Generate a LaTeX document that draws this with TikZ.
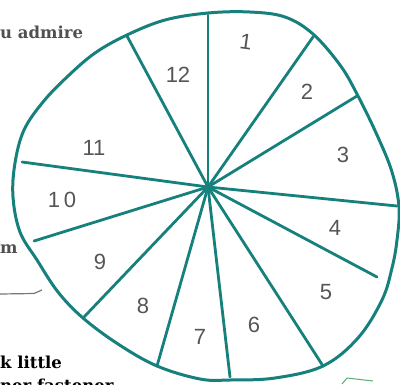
\documentclass[tikz,border=0pt]{standalone}
\usepackage{fontspec}
\setmainfont{Liberation Sans}
\newfontfamily\slabfont{DejaVu Serif}
\definecolor{tealline}{RGB}{22,128,124}
\definecolor{inkgray}{RGB}{85,85,85}
\definecolor{textgray}{RGB}{80,80,80}
\definecolor{markgreen}{RGB}{90,170,120}
\tikzset{
  rim/.style={draw=tealline, line width=3pt, line join=round},
  spoke/.style={draw=tealline, line width=2.8pt, line cap=round},
  digit/.style={text=inkgray, font=\fontsize{22}{22}\selectfont, inner sep=0pt},
  sidetext/.style={font=\slabfont\bfseries\fontsize{16.5}{16.5}\selectfont, inner sep=0pt, anchor=base west},
}
\begin{document}
\begin{tikzpicture}[x=1pt,y=-1pt]
\useasboundingbox (0,0) rectangle (400,384);
% outline
\draw[rim] plot[smooth cycle, tension=0.6] coordinates {
  (208,13) (250,12) (285,17) (313,34) (340,65) (357,94) (377,135) (392,172) (399,207)
  (397,240) (392,268) (382,300) (358,338) (323,366) (275,378) (230,380) (200,379)
  (157,366) (118,344) (83,318) (58,292) (37,260) (20,232) (13,197) (15,163) (24,130)
  (43,102) (67,77) (95,53) (127,35) (165,20)};
% center and spoke ends
\coordinate (c) at (208,187);
\coordinate (e1) at (208,15);
\coordinate (e2) at (313,37);
\coordinate (e3) at (357,96);
\coordinate (e4) at (397,206);
\coordinate (e5) at (377,277);
\coordinate (e6) at (323,366);
\coordinate (e7) at (230,377);
\coordinate (e8) at (157,366);
\coordinate (e9) at (84,317);
\coordinate (e10) at (34,241);
\coordinate (e11) at (22,162);
\coordinate (e12) at (127,36);
\foreach \i in {1,...,12} \draw[spoke] (c) -- (e\i);
% digits
\node[digit, rotate=-8] (d1) at (246,42) {1};
\node[digit] (d2) at (307,92) {2};
\node[digit] (d3) at (343,155) {3};
\node[digit] (d4) at (335,228) {4};
\node[digit] (d5) at (326,292) {5};
\node[digit] (d6) at (254,325) {6};
\node[digit] (d7) at (200,337) {7};
\node[digit] (d8) at (143,306) {8};
\node[digit] (d9) at (100,262) {9};
\node[digit] (d10) at (62,200) {1\,0};
\node[digit] (d11) at (94,148) {11};
\node[digit] (d12) at (178,75) {12};
% side texts
\node[sidetext, text=textgray] (t1) at (0,38) {u admire};
\node[sidetext, text=textgray] (t2) at (0,253) {m};
\node[sidetext, text=black] (t3) at (0,368) {k little};
\begin{scope}
\clip (0,0) rectangle (400,384);
\node[sidetext, text=black] (t4) at (0,391) {ner fastener};
\end{scope}
% left rule line
\coordinate (l1) at (0,294);
\coordinate (l2) at (42,290);
\draw[inkgray!80, line width=1.2pt] (l1) -- (34,293.5) -- (l2);
% green mark bottom right
\coordinate (g1) at (342,384);
\coordinate (g2) at (347,378);
\coordinate (g3) at (373,381);
\draw[markgreen, line width=1pt] (g1) -- (g2) -- (g3);
\end{tikzpicture}
\end{document}
